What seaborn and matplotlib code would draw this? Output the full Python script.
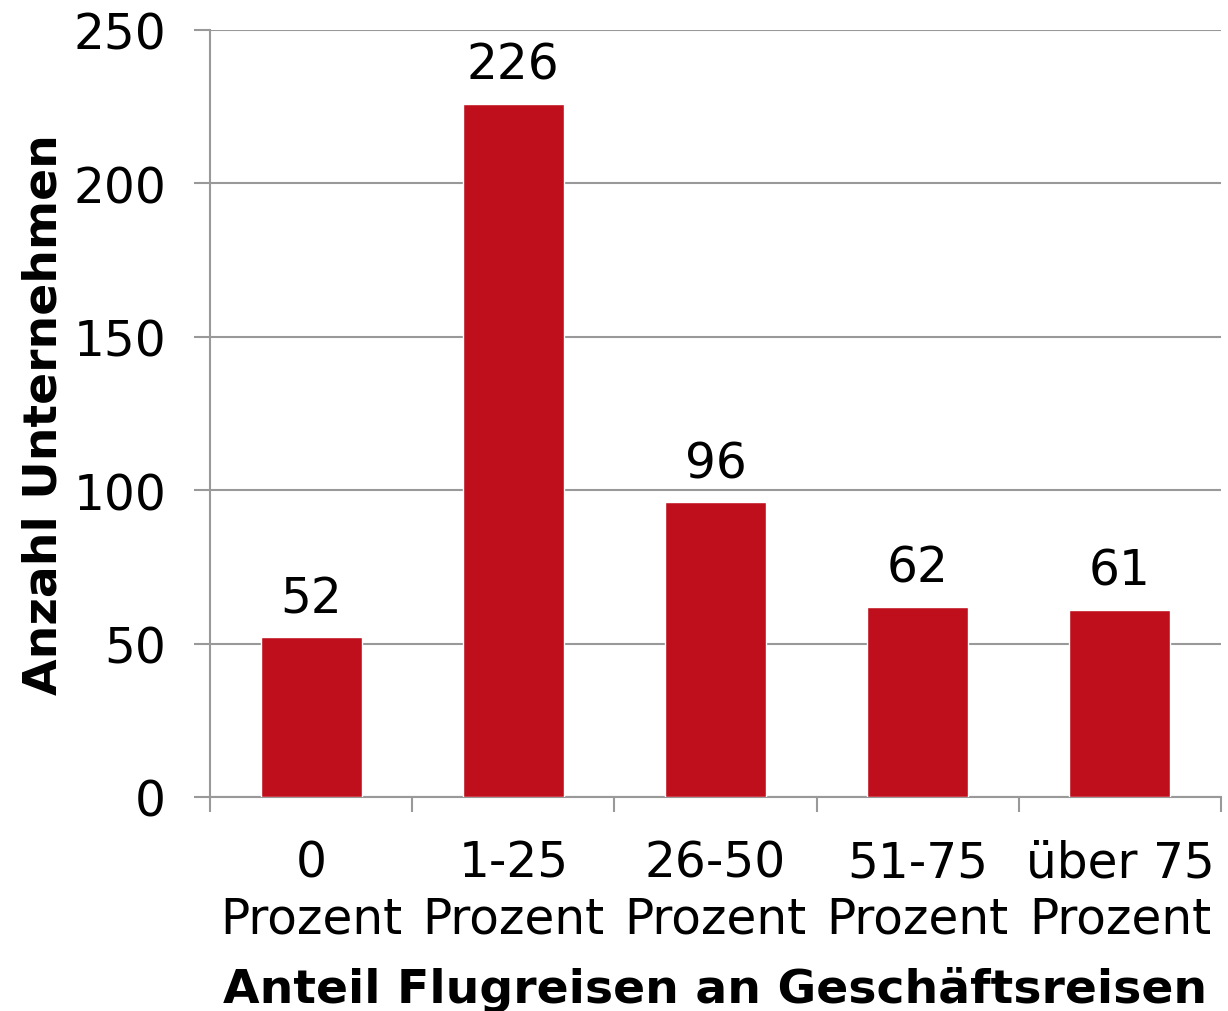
import matplotlib
matplotlib.use('Agg')
import matplotlib.pyplot as plt
import seaborn as sns
import pandas as pd

categories = ['0\nProzent', '1-25\nProzent', '26-50\nProzent', '51-75\nProzent', 'über 75\nProzent']
counts = [52, 226, 96, 62, 61]

df = pd.DataFrame({'anteil': categories, 'anzahl': counts})

sns.set_style('white')
plt.rcParams['font.family'] = ['DejaVu Sans']
plt.rcParams['text.color'] = 'black'
plt.rcParams['axes.labelcolor'] = 'black'
plt.rcParams['xtick.color'] = 'black'
plt.rcParams['ytick.color'] = 'black'

fig = plt.figure(figsize=(12.28, 10.12), dpi=100)
ax = fig.add_axes([210 / 1228, 1 - 798 / 1012, 1011 / 1228, 767 / 1012])

sns.barplot(data=df, x='anteil', y='anzahl', color='#C00F1C', width=0.5,
            saturation=1, ax=ax, zorder=3)

for i, v in enumerate(counts):
    ax.text(i, v + 5, str(v), ha='center', va='bottom', fontsize=35)

ax.set_ylim(0, 250)
ax.set_yticks([0, 50, 100, 150, 200, 250])
ax.set_xlim(-0.5, len(categories) - 0.5)
ax.yaxis.grid(True, color='#999999', linewidth=1.5, zorder=0)
ax.set_axisbelow(True)

for side in ['top', 'right']:
    ax.spines[side].set_visible(False)
for side in ['left', 'bottom']:
    ax.spines[side].set_color('#999999')
    ax.spines[side].set_linewidth(1.5)

ax.tick_params(axis='y', left=True, length=11.5, width=1.5, color='#999999',
               labelcolor='black', labelsize=35, pad=20)
ax.set_xticks([i for i in range(len(categories))])
ax.set_xticklabels(categories, fontsize=35, linespacing=1.2)
ax.tick_params(axis='x', which='major', bottom=False, length=0, pad=30, labelcolor='black')
# boundary ticks between categories
ax.set_xticks([i - 0.5 for i in range(len(categories) + 1)], minor=True)
ax.tick_params(axis='x', which='minor', bottom=True, length=11, width=1.5, color='#999999')

ax.set_xlabel('Anteil Flugreisen an Geschäftsreisen', fontsize=34, fontweight='bold', labelpad=17)
ax.set_ylabel('Anzahl Unternehmen', fontsize=34, fontweight='bold', labelpad=5)

fig.savefig('out.png', dpi=100)
